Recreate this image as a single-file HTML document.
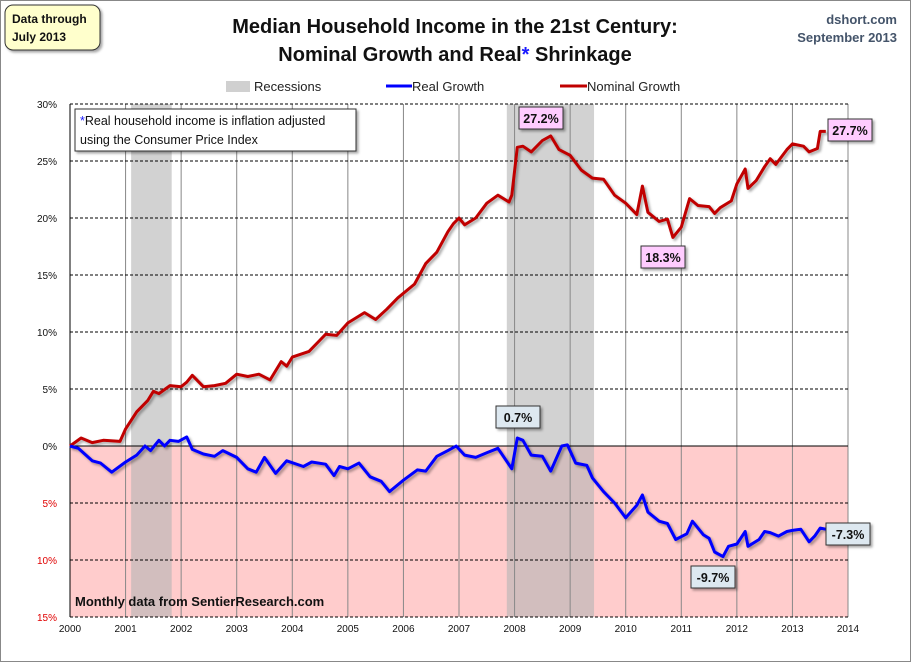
<!DOCTYPE html>
<html><head><meta charset="utf-8"><style>
body{margin:0;background:#fff;}
svg{display:block;font-family:"Liberation Sans",sans-serif;}
</style></head><body>
<svg id="chart" width="911" height="662" viewBox="0 0 911 662">
<defs><filter id="sh" x="-20%" y="-20%" width="150%" height="150%"><feDropShadow dx="2" dy="2" stdDeviation="1.2" flood-color="#000" flood-opacity="0.35"/></filter></defs>
<rect x="0.5" y="0.5" width="910" height="661" fill="#fff" stroke="#888"/>
<g>
<text x="455" y="33" text-anchor="middle" font-size="20" font-weight="bold" fill="#111">Median Household Income in the 21st Century:</text>
<text x="455" y="61" text-anchor="middle" font-size="20" font-weight="bold" fill="#111">Nominal  Growth and Real<tspan fill="#1a1aff">*</tspan> Shrinkage</text>
</g>
<text x="897" y="24" text-anchor="end" font-size="13" font-weight="bold" fill="#44546a">dshort.com</text>
<text x="897" y="42" text-anchor="end" font-size="13" font-weight="bold" fill="#44546a">September 2013</text>
<g filter="url(#sh)">
<rect x="5" y="5" width="95" height="45" rx="8" fill="#ffffcc" stroke="#333"/>
</g>
<text x="12" y="23" font-size="12" font-weight="bold" fill="#111">Data through</text>
<text x="12" y="41" font-size="12" font-weight="bold" fill="#111">July 2013</text>
<g font-size="13" fill="#222">
<rect x="226" y="81" width="24" height="11" fill="#d0d0d0"/>
<text x="254" y="91">Recessions</text>
<line x1="386" y1="86" x2="412" y2="86" stroke="#0000ff" stroke-width="3"/>
<text x="412" y="91">Real Growth</text>
<line x1="560" y1="86" x2="587" y2="86" stroke="#c00000" stroke-width="3"/>
<text x="587" y="91">Nominal Growth</text>
</g>
<g id="plot"></g>
<g filter="url(#sh)"><rect x="75" y="109" width="281" height="42" fill="#fff" stroke="#333"/></g>
<text x="80" y="125" font-size="12.5" fill="#111"><tspan fill="#1a1aff">*</tspan>Real household  income is inflation adjusted</text>
<text x="80" y="144" font-size="12.5" fill="#111">using  the Consumer Price Index</text>
<text x="75" y="606" font-size="13" font-weight="bold" fill="#111">Monthly data from SentierResearch.com</text>
</svg>
<script>
const years=[2000,2001,2002,2003,2004,2005,2006,2007,2008,2009,2010,2011,2012,2013,2014];
const yTicks=[30,25,20,15,10,5,0,-5,-10,-15];
const recessions=[[2001.1,2001.83],[2007.86,2009.43]];
const nomT=[2000.0,2000.2,2000.4,2000.6,2000.9,2001.0,2001.2,2001.4,2001.5,2001.6,2001.8,2002.0,2002.1,2002.2,2002.4,2002.6,2002.8,2003.0,2003.2,2003.4,2003.6,2003.8,2003.9,2004.0,2004.3,2004.5,2004.6,2004.8,2005.0,2005.3,2005.5,2005.7,2005.9,2006.2,2006.4,2006.6,2006.8,2006.9,2007.0,2007.1,2007.3,2007.5,2007.7,2007.9,2007.95,2008.05,2008.15,2008.3,2008.5,2008.65,2008.8,2009.0,2009.2,2009.4,2009.6,2009.8,2010.0,2010.2,2010.3,2010.4,2010.6,2010.75,2010.85,2011.0,2011.15,2011.3,2011.5,2011.6,2011.7,2011.9,2012.0,2012.15,2012.2,2012.35,2012.5,2012.6,2012.7,2012.9,2013.0,2013.2,2013.3,2013.45,2013.5,2013.6];
const nomV=[0,0.7,0.3,0.5,0.4,1.5,3,4,4.8,4.6,5.3,5.2,5.6,6.2,5.2,5.3,5.5,6.3,6.1,6.3,5.8,7.4,7.0,7.8,8.3,9.3,9.8,9.7,10.8,11.7,11.1,12.0,13.0,14.2,16.0,17.0,18.8,19.5,20.0,19.4,20.0,21.3,22.0,21.4,22,26.2,26.3,25.8,26.8,27.2,26,25.5,24.2,23.5,23.4,22.0,21.3,20.3,22.8,20.5,19.7,19.9,18.3,19.2,21.7,21.1,21.0,20.4,20.9,21.5,23.0,24.3,22.6,23.3,24.5,25.2,24.7,26.0,26.5,26.3,25.8,26.1,27.6,27.6];
const realT=[2000.0,2000.15,2000.4,2000.55,2000.75,2001.0,2001.2,2001.35,2001.45,2001.6,2001.7,2001.8,2001.95,2002.1,2002.2,2002.4,2002.6,2002.75,2003.0,2003.2,2003.35,2003.5,2003.7,2003.9,2004.2,2004.35,2004.6,2004.75,2004.85,2005.0,2005.2,2005.4,2005.6,2005.75,2006.0,2006.25,2006.4,2006.6,2006.8,2006.95,2007.1,2007.3,2007.5,2007.7,2007.95,2008.05,2008.15,2008.3,2008.5,2008.65,2008.85,2008.95,2009.1,2009.3,2009.4,2009.6,2009.8,2010.0,2010.2,2010.3,2010.4,2010.6,2010.75,2010.9,2011.1,2011.2,2011.4,2011.5,2011.6,2011.75,2011.85,2012.0,2012.15,2012.2,2012.4,2012.5,2012.6,2012.75,2012.9,2013.0,2013.15,2013.3,2013.4,2013.5,2013.6];
const realV=[0,-0.2,-1.3,-1.5,-2.3,-1.4,-0.8,0,-0.4,0.5,0,0.5,0.4,0.8,-0.3,-0.7,-0.9,-0.4,-1.0,-2.0,-2.3,-1.0,-2.4,-1.3,-1.8,-1.4,-1.6,-2.6,-1.8,-2.0,-1.5,-2.7,-3.1,-4.0,-3.0,-2.1,-2.2,-0.9,-0.4,0,-0.8,-1.0,-0.6,-0.2,-2.0,0.7,0.5,-0.8,-0.9,-2.2,0,0.1,-1.5,-1.7,-2.8,-4.0,-5.0,-6.3,-5.2,-4.3,-5.8,-6.6,-6.8,-8.2,-7.7,-6.6,-7.8,-8.1,-9.3,-9.7,-8.8,-8.6,-7.5,-8.8,-8.2,-7.5,-7.6,-7.9,-7.5,-7.4,-7.3,-8.4,-7.9,-7.2,-7.3];
const X0=70,X1=848,Y0=617,Y1=104;
const xs=t=>X0+(t-2000)/(14)*(X1-X0);
const ys=v=>Y0-(v+15)/45*(Y0-Y1);
const NS="http://www.w3.org/2000/svg";
const plot=document.getElementById('plot');
function mk(tag,attrs,parent){const e=document.createElementNS(NS,tag);for(const k in attrs)e.setAttribute(k,attrs[k]);(parent||plot).appendChild(e);return e;}
let e=mk('rect',{x:X0,y:ys(0),width:X1-X0,height:Y0-ys(0),fill:'#ffcccc'});


recessions.forEach(r=>{const b=mk('rect',{x:xs(r[0]),y:Y1,width:xs(r[1])-xs(r[0]),height:Y0-Y1,fill:'#b4b4b4','fill-opacity':0.6});

});
years.forEach(y=>{if(y>2000){const l=mk('line',{x1:xs(y),x2:xs(y),y1:Y1,y2:Y0,stroke:'#888','stroke-width':1});

}
const t=mk('text',{x:xs(y),y:Y0+15,'text-anchor':'middle','font-size':10,fill:'#111'});t.textContent=y;

});
yTicks.forEach(v=>{const l=mk('line',{x1:X0,x2:X1,y1:ys(v),y2:ys(v),stroke:'#000','stroke-width':1,'stroke-dasharray':v===0?'none':'3,2'});


const t=mk('text',{x:X0-13,y:ys(v)+4,'text-anchor':'end','font-size':10,fill:v<0?'#e00000':'#111'});t.textContent=Math.abs(v)+'%';

});
const ax=mk('line',{x1:X0,x2:X0,y1:Y1,y2:Y0,stroke:'#000','stroke-width':1});


function line(T,V,c,name){const d=T.map((t,i)=>(i?'L':'M')+xs(t).toFixed(1)+','+ys(V[i]).toFixed(1)).join('');
const p=mk('path',{d:d,fill:'none',stroke:c,'stroke-width':3,'stroke-linejoin':'round',filter:'url(#sh)'});

}
line(nomT,nomV,'#c00000','nominal-line');
line(realT,realV,'#0000ff','real-line');
function callout(x,y,txt,fill,name){const g=mk('g',{});


mk('rect',{x:x,y:y,width:44,height:22,fill:fill,stroke:'#333',filter:'url(#sh)'},g);
const t=mk('text',{x:x+22,y:y+16,'text-anchor':'middle','font-size':12.5,'font-weight':'bold',fill:'#111'},g);t.textContent=txt;}
callout(519,107,'27.2%','#ffccff','callout-nominal-peak');
callout(828,119,'27.7%','#ffccff','callout-nominal-latest');
callout(641,246,'18.3%','#ffccff','callout-nominal-low');
callout(496,406,'0.7%','#dde8f0','callout-real-peak');
callout(826,523,'-7.3%','#dde8f0','callout-real-latest');
callout(691,566,'-9.7%','#dde8f0','callout-real-low');
</script>
</body></html>
